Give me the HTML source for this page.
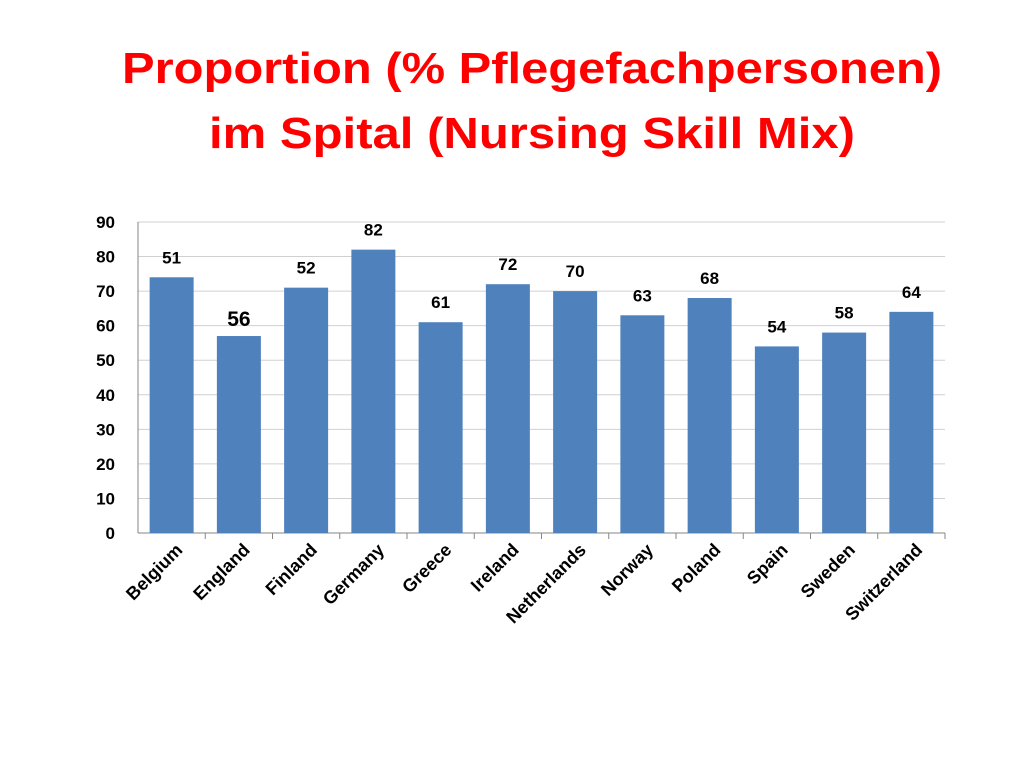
<!DOCTYPE html>
<html><head><meta charset="utf-8"><style>
html,body{margin:0;padding:0;background:#fff;}
svg{display:block;font-family:"Liberation Sans",sans-serif;}
</style></head><body>
<svg id="chart" width="1024" height="768" viewBox="0 0 1024 768">
<text x="532" y="83" text-anchor="middle" font-size="44" font-weight="bold" fill="#ff0000" textLength="820" lengthAdjust="spacingAndGlyphs">Proportion (% Pflegefachpersonen)</text>
<text x="532" y="148" text-anchor="middle" font-size="44" font-weight="bold" fill="#ff0000" textLength="646" lengthAdjust="spacingAndGlyphs">im Spital (Nursing Skill Mix)</text>
<g id="plot"></g>
</svg>
<script>
const categories=["Belgium","England","Finland","Germany","Greece","Ireland","Netherlands","Norway","Poland","Spain","Sweden","Switzerland"];
const values=[74,57,71,82,61,72,70,63,68,54,58,64];
const labels=["51","56","52","82","61","72","70","63","68","54","58","64"];
const ticks=[0,10,20,30,40,50,60,70,80,90];
const NS="http://www.w3.org/2000/svg";
const X0=138,X1=945,Y0=533,Y1=222,MAX=90;
const y=v=>Y0-(v/MAX)*(Y0-Y1);
const bw=(X1-X0)/categories.length;
const x=i=>X0+bw*(i+0.5);
const g=document.getElementById('plot');
function mk(t,a,txt){const e=document.createElementNS(NS,t);for(const k in a)e.setAttribute(k,a[k]);if(txt!==undefined)e.textContent=txt;g.appendChild(e);return e;}
ticks.forEach(t=>{
 const l=mk('line',{x1:X0,x2:X1,y1:y(t),y2:y(t),stroke:t===0?'#868686':'#d0d0d0','stroke-width':1});
 
 
 const tx=mk('text',{x:115,y:y(t)+6,'text-anchor':'end','font-size':17,'font-weight':'bold',fill:'#000'},String(t));
 
 
});
const ax=mk('line',{x1:X0,x2:X0,y1:Y1,y2:Y0,stroke:'#868686'});


categories.forEach((c,i)=>{
 const cx=x(i);
 const tk=mk('line',{x1:X0+bw*(i+1),x2:X0+bw*(i+1),y1:Y0,y2:Y0+6,stroke:'#868686'});
 
 
 const r=mk('rect',{x:cx-22,y:y(values[i]),width:44,height:Y0-y(values[i]),fill:'#4f81bd'});
 
 
 const big=labels[i]==="56";
 const lt=mk('text',{x:cx-(big?30:0)+(big?30:0)-(big?0:0),y:y(values[i])-(big?10:14),'text-anchor':'middle','font-size':big?21:17,'font-weight':'bold',fill:'#000'},labels[i]);
 
 
 const ct=mk('text',{x:0,y:0,'text-anchor':'end','font-size':18,'font-weight':'bold',fill:'#000',transform:`translate(${cx+12},${Y0+18}) rotate(-45)`},c);
 
 
});
</script>
</body></html>
